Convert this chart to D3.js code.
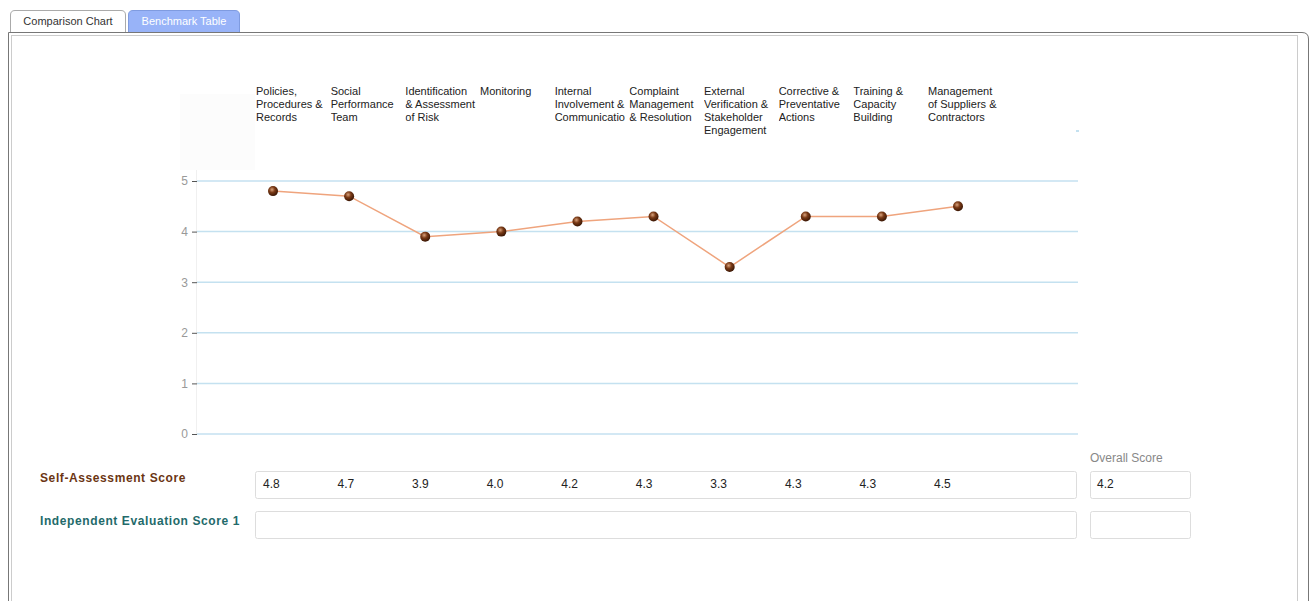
<!DOCTYPE html>
<html>
<head>
<meta charset="utf-8">
<script src="https://cdn.jsdelivr.net/npm/d3@7"></script>
<style>
  body { margin: 0; background: #fff; font-family: "Liberation Sans", Arial, sans-serif; }
  svg text { font-family: "Liberation Sans", Arial, sans-serif; }
</style>
</head>
<body>
<svg id="chart"></svg>
<script>
var width = 1312,
    height = 601;

var categories = [
    ["Policies,", "Procedures &", "Records"],
    ["Social", "Performance", "Team"],
    ["Identification", "& Assessment", "of Risk"],
    ["Monitoring"],
    ["Internal", "Involvement &", "Communicatio"],
    ["Complaint", "Management", "& Resolution"],
    ["External", "Verification &", "Stakeholder", "Engagement"],
    ["Corrective &", "Preventative", "Actions"],
    ["Training &", "Capacity", "Building"],
    ["Management", "of Suppliers &", "Contractors"]
];
var selfScores = [4.8, 4.7, 3.9, 4.0, 4.2, 4.3, 3.3, 4.3, 4.3, 4.5];
var yTicks = [0, 1, 2, 3, 4, 5];
var overallScore = "4.2";
var rowLabels = ["Self-Assessment Score", "Independent Evaluation Score 1"];
var tabLabels = ["Comparison Chart", "Benchmark Table"];

var svg = d3.select("#chart")
    .attr("width", width)
    .attr("height", height);

var defs = svg.append("defs");
var grad = defs.append("radialGradient")
    .attr("id", "ball")
    .attr("cx", "40%").attr("cy", "35%").attr("r", "65%");
grad.append("stop").attr("offset", "0%").attr("stop-color", "#d9a27c");
grad.append("stop").attr("offset", "45%").attr("stop-color", "#7a3a16");
grad.append("stop").attr("offset", "100%").attr("stop-color", "#3a1604");

// tabs
var tabs = [
    {x: 10, w: 116, fill: "#fff", color: "#333"},
    {x: 128, w: 112, fill: "#98b3f8", color: "#fff"}
];
tabs.forEach(function (t, i) {
    svg.append("path")
        .attr("d", "M" + (t.x + 0.5) + ",32 V15 Q" + (t.x + 0.5) + ",10.5 " + (t.x + 5) + ",10.5 H" +
            (t.x + t.w - 5) + " Q" + (t.x + t.w - 0.5) + ",10.5 " + (t.x + t.w - 0.5) + ",15 V32")
        .attr("fill", t.fill)
        .attr("stroke", i == 0 ? "#aaa" : "#7f9be0");
    svg.append("text")
        .attr("x", t.x + t.w / 2)
        .attr("y", 25)
        .attr("text-anchor", "middle")
        .attr("font-size", 11)
        .style("fill", t.color)
        .text(tabLabels[i]);
});

// panel borders
svg.append("path")
    .attr("d", "M8.5,601 V32.5 H1302 Q1308.5,32.5 1308.5,39 V601")
    .attr("fill", "none")
    .attr("stroke", "#777");
svg.append("rect")
    .attr("x", 11.5).attr("y", 35.5)
    .attr("width", 1286).attr("height", 580)
    .attr("fill", "none")
    .attr("stroke", "#ccc");

// faint block behind top-left
svg.append("rect")
    .attr("x", 180).attr("y", 94)
    .attr("width", 75).attr("height", 76)
    .attr("fill", "#fcfcfc");

var y = d3.scaleLinear().domain([0, 5]).range([434, 181]);
var x = d3.scalePoint()
    .domain(d3.range(categories.length))
    .range([273, 958]);
var xLabel = d3.scalePoint()
    .domain(d3.range(categories.length))
    .range([256, 928]);

// gridlines
svg.append("g")
    .selectAll("line")
    .data(yTicks)
    .enter()
    .append("line")
    .attr("x1", 197).attr("x2", 1078)
    .attr("y1", function (d) { return y(d); })
    .attr("y2", function (d) { return y(d); })
    .style("stroke", "#c4e1f0")
    .style("stroke-width", 1.5);

svg.append("line")
    .attr("x1", 196.5).attr("x2", 196.5)
    .attr("y1", 170).attr("y2", 435)
    .style("stroke", "#f0f0f0");

var yAxis = svg.append("g")
    .attr("transform", "translate(197,0)")
    .call(d3.axisLeft(y).tickValues(yTicks).tickSize(5).tickPadding(4).tickFormat(d3.format("d")));
yAxis.select(".domain").remove();
yAxis.selectAll(".tick line").style("stroke", "#555");
yAxis.selectAll(".tick text")
    .style("fill", "#999")
    .attr("font-size", 12)
    .style("font-family", "'Liberation Sans', Arial, sans-serif");

svg.append("rect")
    .attr("x", 1076).attr("y", 130)
    .attr("width", 3).attr("height", 2)
    .attr("fill", "#c4e1f0");

// category labels
defs.selectAll("clipPath")
    .data(categories)
    .enter()
    .append("clipPath")
    .attr("id", function (d, i) { return "clip" + i; })
    .append("rect")
    .attr("x", function (d, i) { return xLabel(i); })
    .attr("y", 80)
    .attr("width", 74)
    .attr("height", 60);

svg.selectAll(".cat")
    .data(categories)
    .enter()
    .append("text")
    .attr("class", "cat")
    .attr("clip-path", function (d, i) { return "url(#clip" + i + ")"; })
    .attr("font-size", 11)
    .style("fill", "#222")
    .each(function (d, i) {
        var t = d3.select(this);
        d.forEach(function (line, j) {
            t.append("tspan")
                .attr("x", xLabel(i))
                .attr("y", 95 + j * 13)
                .text(line);
        });
    });

// line + markers
var line = d3.line()
    .x(function (d, i) { return x(i); })
    .y(function (d) { return y(d); });

svg.append("path")
    .datum(selfScores)
    .attr("d", line)
    .attr("fill", "none")
    .style("stroke", "#efa47d")
    .style("stroke-width", 1.5);

svg.selectAll(".dot")
    .data(selfScores)
    .enter()
    .append("circle")
    .attr("class", "dot")
    .attr("cx", function (d, i) { return x(i); })
    .attr("cy", function (d) { return y(d); })
    .attr("r", 5)
    .style("fill", "url(#ball)");

// table rows
svg.append("text")
    .attr("x", 1090).attr("y", 462)
    .attr("font-size", 12)
    .style("fill", "#888")
    .text("Overall Score");

var rowY = [471, 511];
var labelY = [482, 525];
var rowColors = ["#6b3513", "#236a6a"];
rowY.forEach(function (ry, r) {
    svg.append("text")
        .attr("x", 40).attr("y", labelY[r])
        .attr("font-size", 12)
        .attr("font-weight", "bold")
        .style("fill", rowColors[r])
        .style("letter-spacing", "0.6px")
        .text(rowLabels[r]);
    svg.append("rect")
        .attr("x", 255.5).attr("y", ry + 0.5)
        .attr("width", 821).attr("height", 27)
        .attr("rx", 2)
        .attr("fill", "#fff")
        .attr("stroke", "#ddd");
    svg.append("rect")
        .attr("x", 1090.5).attr("y", ry + 0.5)
        .attr("width", 100).attr("height", 27)
        .attr("rx", 2)
        .attr("fill", "#fff")
        .attr("stroke", "#ddd");
});

var xVal = d3.scalePoint()
    .domain(d3.range(selfScores.length))
    .range([263, 934]);

svg.selectAll(".val")
    .data(selfScores)
    .enter()
    .append("text")
    .attr("class", "val")
    .attr("x", function (d, i) { return xVal(i); })
    .attr("y", 488)
    .attr("font-size", 12)
    .style("fill", "#222")
    .text(function (d) { return d3.format(".1f")(d); });

svg.append("text")
    .attr("x", 1097).attr("y", 488)
    .attr("font-size", 12)
    .style("fill", "#222")
    .text(overallScore);
</script>
</body>
</html>
